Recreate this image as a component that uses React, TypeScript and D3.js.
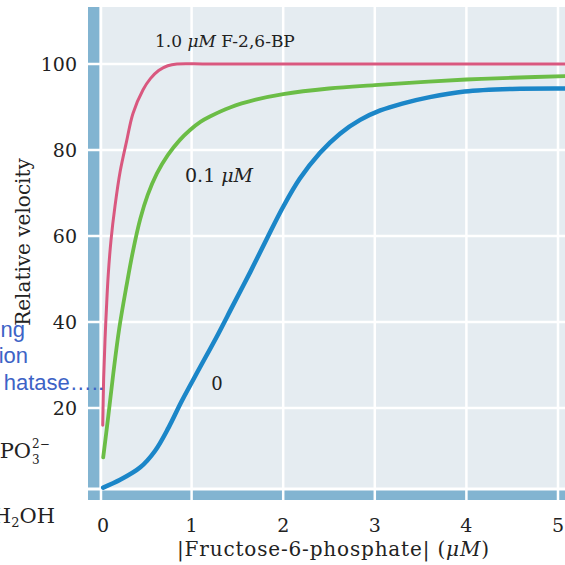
import React from 'react';
import * as d3 from 'd3';

// [Fructose-6-phosphate] (uM) vs relative velocity, one curve per F-2,6-BP level
const pinkCurve: [number, number][] = [
  [0.03, 16], [0.04, 27], [0.055, 36], [0.07, 43], [0.09, 51], [0.12, 59],
  [0.164, 67], [0.22, 75], [0.29, 82], [0.36, 88.5], [0.47, 94], [0.55, 96.6],
  [0.64, 98.5], [0.74, 99.6], [0.84, 100], [1.2, 100], [5.1, 100],
];
const greenCurve: [number, number][] = [
  [0.035, 8.5], [0.09, 18], [0.145, 28], [0.21, 38.5], [0.29, 48.5], [0.36, 56.5],
  [0.44, 64], [0.52, 69.5], [0.62, 74.5], [0.74, 78.8], [0.87, 82.3], [0.98, 84.6],
  [1.1, 86.6], [1.2, 87.8], [1.42, 89.9], [1.7, 91.7], [2.0, 93.0], [2.5, 94.3],
  [3.0, 95.1], [3.5, 95.8], [4.0, 96.4], [4.5, 96.8], [5.1, 97.2],
];
const blueCurve: [number, number][] = [
  [0.035, 1.5], [0.22, 3.3], [0.44, 6.2], [0.6, 10], [0.75, 15.5], [0.89, 21.5],
  [1.08, 29], [1.27, 36.4], [1.45, 43.8], [1.64, 51.6], [1.82, 59.3], [2.0, 66.8],
  [2.18, 73.3], [2.4, 79.3], [2.62, 83.8], [2.84, 87], [3.06, 89.2], [3.3, 90.8],
  [3.6, 92.3], [3.98, 93.6], [4.5, 94.2], [5.1, 94.3],
];
const xTicks = [0, 1, 2, 3, 4, 5];
const yTicks = [20, 40, 60, 80, 100];

const serif = '"DejaVu Serif", serif';
const sans = '"Liberation Sans", Arial, sans-serif';
const textCol = '#222';
const band = '#82b4d1';
const plotBg = '#e5ecf1';

export default function App() {
  const x = d3.scaleLinear().domain([0, 5]).range([100, 558]);
  const y = d3.scaleLinear().domain([0, 100]).range([494, 64]);
  const line = d3.line<[number, number]>()
    .x((d) => x(d[0]))
    .y((d) => y(d[1]))
    .curve(d3.curveCatmullRom.alpha(0.5));

  const top = 7, plotBottom = 487.5, bandTop = 490.5, bandBottom = 500;

  return (
    <svg width={565} height={565} style={{ position: 'absolute', left: 0, top: 0, background: '#fff' }}>
      {/* frame: plot background and the two blue bands */}
      <rect x={102} y={top} width={465} height={plotBottom - top} fill={plotBg} />
      <rect x={88} y={top} width={11.5} height={plotBottom - top} fill={band} />
      <rect x={88} y={bandTop} width={480} height={bandBottom - bandTop} fill={band} />
      {xTicks.slice(1).map((t) => (
        <line key={`gx-${t}`} x1={x(t)} x2={x(t)} y1={top} y2={bandBottom} stroke="#fff" strokeWidth={2.5} />
      ))}
      <line x1={101} x2={101} y1={top} y2={bandBottom} stroke="#fff" strokeWidth={2.5} />
      {yTicks.map((t) => (
        <line key={`gy-${t}`} x1={88} x2={565} y1={y(t)} y2={y(t)} stroke="#fff" strokeWidth={2.5} />
      ))}

      {/* curves */}
      <path d={line(blueCurve) ?? ''} fill="none" stroke="#1b86c8" strokeWidth={4.5} strokeLinecap="round" />
      <path d={line(greenCurve) ?? ''} fill="none" stroke="#6bbd46" strokeWidth={3.8} strokeLinecap="round" />
      <path d={line(pinkCurve) ?? ''} fill="none" stroke="#d9587f" strokeWidth={3} strokeLinecap="round" />

      {/* curve labels */}
      <text x={155} y={47} fontFamily={serif} fontSize={17} fill={textCol}>
        1.0 <tspan fontStyle="italic">μM</tspan> F-2,6-BP
      </text>
      <text x={185} y={182} fontFamily={serif} fontSize={19} fill={textCol}>
        0.1 <tspan fontStyle="italic">μM</tspan>
      </text>
      <text x={217} y={390} fontFamily={serif} fontSize={18} fill={textCol} textAnchor="middle">0</text>

      {/* tick labels */}
      {yTicks.map((t) => (
        <text key={`ty-${t}`} x={77} y={y(t) + 7} fontFamily={serif} fontSize={19} fill={textCol} textAnchor="end">{t}</text>
      ))}
      {xTicks.map((t) => (
        <text key={`tx-${t}`} x={x(t) + (t === 0 ? 3 : 0)} y={532} fontFamily={serif} fontSize={19} fill={textCol} textAnchor="middle">{t}</text>
      ))}

      {/* axis titles */}
      <text x={177} y={556} fontFamily={serif} fontSize={20} fill={textCol} textLength={312}>
        |Fructose-6-phosphate| (<tspan fontStyle="italic">μM</tspan>)
      </text>
      <text transform="translate(30,242) rotate(-90)" fontFamily={serif} fontSize={20} fill={textCol} textAnchor="middle">
        Relative velocity
      </text>

      {/* fragments of the neighbouring page */}
      <text x={25} y={337} fontFamily={sans} fontSize={22} fill="#3d63c6" textAnchor="end">ng</text>
      <text x={28} y={363} fontFamily={sans} fontSize={22} fill="#3d63c6" textAnchor="end">ion</text>
      <text x={104} y={390} fontFamily={sans} fontSize={22} fill="#3d63c6" textAnchor="end">hatase…..</text>
      <text x={31} y={458} fontFamily={serif} fontSize={21} fill="#222" textAnchor="end">PO</text>
      <text x={32} y={448} fontFamily={serif} fontSize={12} fill="#222">2−</text>
      <text x={32} y={464} fontFamily={serif} fontSize={12} fill="#222">3</text>
      <text x={55} y={523} fontFamily={serif} fontSize={21} fill="#222" textAnchor="end">
        H<tspan fontSize={13} dy={4}>2</tspan><tspan dy={-4}>OH</tspan>
      </text>
    </svg>
  );
}
